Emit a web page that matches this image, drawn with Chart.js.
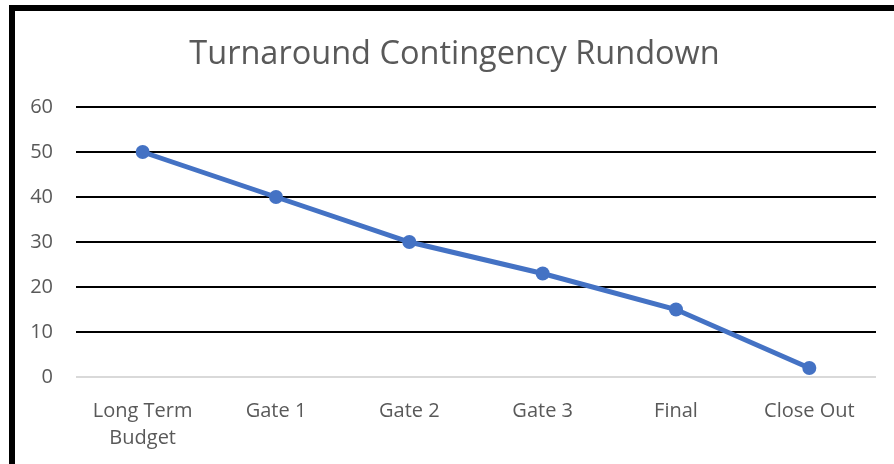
<!DOCTYPE html>
<html lang="en">
<head>
    <meta charset="UTF-8">
    <title>Turnaround Contingency Rundown</title>
    <script src="https://cdn.jsdelivr.net/npm/chart.js@4.4.1/dist/chart.umd.min.js"></script>
    <style>
        html, body { margin: 0; padding: 0; background: #fff; overflow: hidden; }
        .frame { position: absolute; left: 9px; top: 5px; width: 879px; height: 453px;
                 border-left: 6px solid #000; border-top: 6px solid #000; }
        canvas { display: block; }
    </style>
</head>
<body>
    <div class="frame"><canvas id="chart" width="879" height="453"></canvas></div>

    <script>
        const categories = [['Long Term', 'Budget'], 'Gate 1', 'Gate 2', 'Gate 3', 'Final', 'Close Out'];
        const contingency = [50, 40, 30, 23, 15, 2];
        const yTicks = [0, 10, 20, 30, 40, 50, 60];

        const textColor = '#595959';
        const fontFamily = '"Open Sans", sans-serif';

        new Chart(document.getElementById('chart'), {
            type: 'line',
            data: {
                labels: categories,
                datasets: [{
                    data: contingency,
                    borderColor: '#4472c4',
                    backgroundColor: '#4472c4',
                    borderWidth: 5,
                    pointRadius: 7,
                    pointBorderWidth: 0,
                    pointHoverRadius: 7,
                    tension: 0
                }]
            },
            options: {
                responsive: false,
                animation: false,
                layout: { padding: 0 },
                plugins: {
                    legend: { display: false },
                    tooltip: { enabled: false },
                    title: {
                        display: true,
                        text: 'Turnaround Contingency Rundown',
                        color: textColor,
                        font: { family: fontFamily, size: 32.5, weight: 'normal', lineHeight: 1.2 },
                        padding: { top: 24, bottom: 33 }
                    }
                },
                scales: {
                    x: {
                        offset: true,
                        grid: { display: false },
                        border: { display: false },
                        ticks: {
                            color: textColor,
                            padding: 13,
                            maxRotation: 0,
                            font: { family: fontFamily, size: 20, lineHeight: 1.35 }
                        },
                        afterFit: (scale) => { scale.height = 87; }
                    },
                    y: {
                        min: 0,
                        max: 60,
                        afterBuildTicks: (scale) => { scale.ticks = yTicks.map(v => ({ value: v })); },
                        grid: {
                            drawTicks: false,
                            lineWidth: 2,
                            color: (ctx) => ctx.tick && ctx.tick.value === 0 ? '#d9d9d9' : '#000'
                        },
                        border: { display: false },
                        ticks: {
                            color: textColor,
                            padding: 23,
                            font: { family: fontFamily, size: 20 }
                        },
                        afterFit: (scale) => { scale.width = 61; }
                    },
                    // empty right-hand axis, only reserves the margin to the right of the plot
                    yRight: {
                        position: 'right',
                        min: 0,
                        max: 60,
                        grid: { display: false },
                        border: { display: false },
                        ticks: { display: false },
                        afterFit: (scale) => { scale.width = 18; }
                    }
                }
            }
        });
    </script>
</body>
</html>
